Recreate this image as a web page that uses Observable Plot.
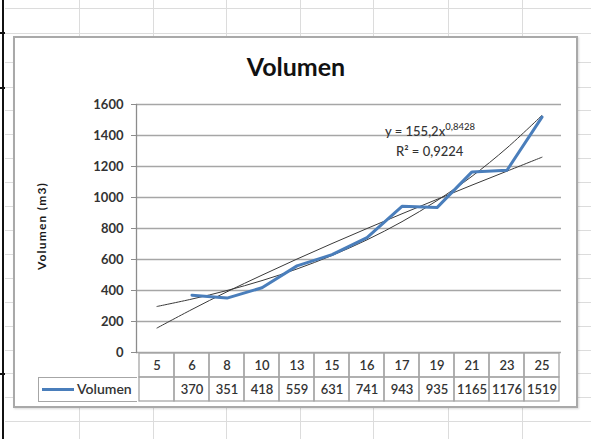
<!DOCTYPE html>
<html>
<head>
<meta charset="utf-8">
<script src="https://cdn.jsdelivr.net/npm/d3@7"></script>
<script src="https://cdn.jsdelivr.net/npm/@observablehq/plot@0.6"></script>
<style>
  html, body { margin: 0; padding: 0; background: #fff; }
  #page { position: relative; width: 591px; height: 439px; overflow: hidden; background: #fff; font-family: Lato, "Open Sans", sans-serif; }
  .abs { position: absolute; }
  #page svg { position: absolute; }
</style>
</head>
<body>
<div id="page"></div>
<script>
// ---- data ----
const categories = ["5", "6", "8", "10", "13", "15", "16", "17", "19", "21", "23", "25"];
const volumen = [null, 370, 351, 418, 559, 631, 741, 943, 935, 1165, 1176, 1519];
const trendPower = [158, 278, 392, 499, 603, 703, 800, 895, 988, 1080, 1170, 1260];
const trendExp = [297, 345, 400, 464, 539, 626, 727, 844, 980, 1137, 1320, 1530];
const yTicks = [0, 200, 400, 600, 800, 1000, 1200, 1400, 1600];
const title = "Volumen";
const yLabel = "Volumen (m3)";
const seriesName = "Volumen";
const equation = "y = 155,2x";
const equationExp = "0,8428";
const rSquared = "R² = 0,9224";

const rows = categories.map((c, i) => ({cat: c, vol: volumen[i], pow: trendPower[i], exp: trendExp[i]}));
const tableCells = [];
for (const c of categories) { tableCells.push({cat: c, row: "cat"}); tableCells.push({cat: c, row: "val"}); }

const page = document.getElementById("page");
function div(style, html) {
  const d = document.createElement("div");
  d.className = "abs";
  d.style.cssText = style;
  if (html != null) d.innerHTML = html;
  page.appendChild(d);
  return d;
}

// ---- spreadsheet background ----
const sheetCols = [79, 153, 226, 300, 373, 448, 522];
const sheetRows = [8, 33, 62, 87, 110, 134, 158, 182, 206, 230, 254, 278, 302, 326, 350, 373, 397, 421];
for (const x of sheetCols) div(`left:${x}px;top:0;width:1px;height:439px;background:#dcdcdc;`);
for (const y of sheetRows) div(`left:5px;top:${y}px;width:586px;height:1px;background:#dcdcdc;`);
div(`left:2px;top:0;width:2px;height:439px;background:#111;`);
for (const y of [32, 87, 373]) div(`left:0;top:${y}px;width:5px;height:2px;background:#111;`);

// ---- chart box ----
div(`left:13px;top:36px;width:565px;height:372px;box-sizing:border-box;border:2px solid #a9a9a9;background:#fff;box-shadow:1px 1px 2px rgba(0,0,0,0.15);`);

// title
div(`left:196px;top:54px;width:200px;text-align:center;font:700 25px/25px Lato, sans-serif;color:#111;`, title);
// y label
div(`left:-18px;top:219px;width:120px;text-align:center;font:700 12px/14px Lato, sans-serif;letter-spacing:1.2px;color:#1a1a1a;transform:rotate(-90deg);transform-origin:60px 7px;`, yLabel);

// ---- main plot ----
const main = Plot.plot({
  width: 591,
  height: 439,
  marginLeft: 136,
  marginRight: 30,
  marginTop: 104,
  marginBottom: 87,
  style: {background: "transparent", fontFamily: "Lato, sans-serif", fontSize: "13px", color: "#333333", overflow: "visible"},
  x: {type: "band", domain: categories, padding: 0, axis: null},
  y: {domain: [0, 1600], axis: null},
  marks: [
    Plot.gridY(yTicks, {stroke: "#a6a6a6", strokeOpacity: 1, strokeWidth: 1.3}),
    Plot.axisY(yTicks, {tickSize: 5, tickPadding: 8, stroke: "#8c8c8c", fontWeight: 700, tickFormat: d => String(d), label: null}),
    Plot.frame({anchor: "left", stroke: "#8c8c8c", strokeWidth: 1.3}),
    Plot.line(rows, {x: "cat", y: "exp", stroke: "#3a3a3a", strokeWidth: 1, curve: "catmull-rom"}),
    Plot.line(rows, {x: "cat", y: "pow", stroke: "#3a3a3a", strokeWidth: 1, curve: "catmull-rom"}),
    Plot.line(rows.filter(d => d.vol != null), {x: "cat", y: "vol", stroke: "#4a7ebb", strokeWidth: 3, strokeLinejoin: "round"})
  ]
});
main.style.left = "0px";
main.style.top = "0px";
page.appendChild(main);

// ---- data table ----
const table = Plot.plot({
  width: 591,
  height: 51,
  marginLeft: 136,
  marginRight: 30,
  marginTop: 1,
  marginBottom: 1,
  style: {background: "transparent", fontFamily: "Lato, sans-serif", fontSize: "13px", color: "#333333", overflow: "visible"},
  x: {type: "band", domain: categories, padding: 0, axis: null},
  y: {type: "band", domain: ["cat", "val"], padding: 0, axis: null},
  marks: [
    Plot.cell(tableCells, {x: "cat", y: "row", fill: "none", stroke: "#a6a6a6", strokeWidth: 1.3, inset: 0}),
    Plot.text(categories, {x: d => d, y: () => "cat", text: d => d, fontWeight: 600, fill: "#333333"}),
    Plot.text(rows.filter(d => d.vol != null), {x: "cat", y: () => "val", text: d => String(d.vol), fontWeight: 600, fill: "#333333"})
  ]
});
table.style.left = "0px";
table.style.top = "351px";
page.appendChild(table);

// legend cell
div(`left:38px;top:377px;width:99px;height:25px;box-sizing:border-box;border:1.3px solid #a6a6a6;border-right:none;`);
div(`left:42px;top:388px;width:32px;height:3px;background:#4a7ebb;`);
div(`left:77px;top:381px;font:600 14px/16px Lato, sans-serif;color:#333333;`, seriesName);

// trend equation
div(`left:385px;top:124px;font:500 13px/14px Lato, sans-serif;color:#333333;white-space:nowrap;`,
    `${equation}<span style="font-size:9.5px;position:relative;top:-6px;">${equationExp}</span>`);
div(`left:396px;top:144px;font:500 13px/14px Lato, sans-serif;color:#333333;white-space:nowrap;`, rSquared);
</script>
</body>
</html>
